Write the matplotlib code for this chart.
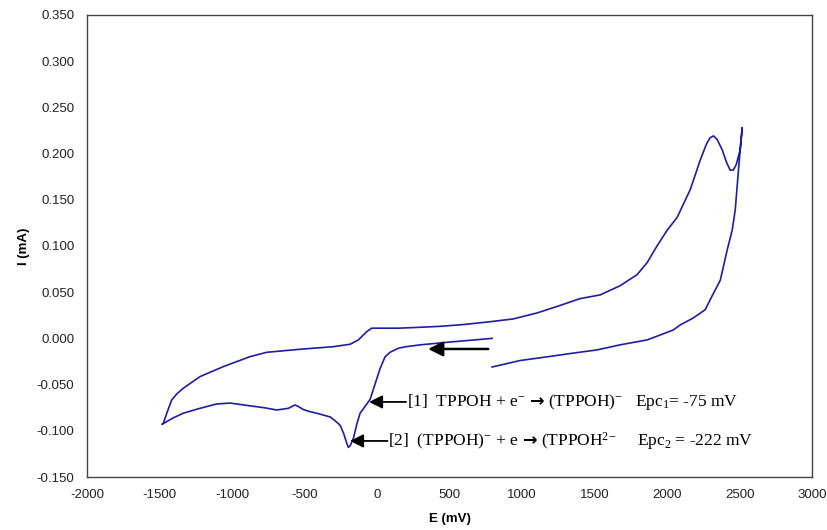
import matplotlib
matplotlib.use("Agg")
import matplotlib.pyplot as plt
from matplotlib.offsetbox import TextArea, HPacker, AnnotationBbox

# cyclic voltammogram, one continuous sweep (E in mV, I in mA)
# cathodic sweep from ~800 mV down to -1500 mV
E_cathodic = [793, 650, 500, 434, 300, 200, 147, 90, 55, 20, -15, -48, -80, -117,
              -140, -163, -185, -198, -209, -230, -255, -290, -324, -370, -416,
              -470, -508, -540, -566, -590, -612, -692, -780, -876, -1014, -1106,
              -1221, -1336, -1405, -1483]
I_cathodic = [0.000, -0.002, -0.004, -0.005, -0.007, -0.009, -0.0107, -0.015,
              -0.020, -0.033, -0.050, -0.066, -0.073, -0.081, -0.093, -0.108,
              -0.116, -0.118, -0.1135, -0.103, -0.094, -0.089, -0.085, -0.083,
              -0.081, -0.079, -0.077, -0.074, -0.072, -0.074, -0.0757, -0.0775,
              -0.075, -0.073, -0.070, -0.071, -0.0757, -0.081, -0.086, -0.093]

# anodic sweep from -1500 mV up to ~2500 mV
E_anodic = [-1474, -1445, -1416, -1380, -1336, -1221, -1060, -876, -761, -531,
            -301, -186, -129, -71, -37, 43, 150, 300, 434, 600, 779, 938, 1103,
            1250, 1400, 1538, 1676, 1793, 1862, 1930, 2000, 2069, 2120, 2159,
            2228, 2270, 2295, 2320, 2345, 2379, 2410, 2434, 2455, 2476, 2503, 2517]
I_anodic = [-0.092, -0.079, -0.0667, -0.060, -0.054, -0.0414, -0.0306, -0.0198,
            -0.0151, -0.0118, -0.009, -0.0064, -0.0017, 0.0073, 0.011, 0.011,
            0.011, 0.012, 0.013, 0.015, 0.018, 0.021, 0.0275, 0.035, 0.043, 0.047,
            0.057, 0.069, 0.082, 0.100, 0.117, 0.131, 0.148, 0.161, 0.193, 0.210,
            0.217, 0.219, 0.215, 0.204, 0.190, 0.182, 0.182, 0.188, 0.204, 0.228]

# reverse sweep back to ~800 mV
E_reverse = [2497, 2469, 2448, 2414, 2366, 2297, 2262, 2179, 2090, 2041, 1862,
             1676, 1517, 1350, 1172, 986, 793]
I_reverse = [0.193, 0.139, 0.117, 0.096, 0.063, 0.042, 0.031, 0.022, 0.0145,
             0.009, -0.0017, -0.007, -0.0125, -0.016, -0.020, -0.024, -0.031]

E = E_cathodic + E_anodic + E_reverse
I = I_cathodic + I_anodic + I_reverse

x_ticks = list(range(-2000, 3001, 500))
y_ticks = [-0.15, -0.10, -0.05, 0.0, 0.05, 0.10, 0.15, 0.20, 0.25, 0.30, 0.35]

plt.rcParams["font.family"] = ["Liberation Sans", "DejaVu Sans"]
plt.rcParams["axes.unicode_minus"] = False
plt.rcParams["mathtext.fontset"] = "custom"
plt.rcParams["mathtext.rm"] = "Liberation Serif"
plt.rcParams["mathtext.it"] = "Liberation Serif:italic"

fig = plt.figure(figsize=(8.28, 5.30), dpi=100)
ax = fig.add_axes([0.105, 0.10, 0.876, 0.872])

ax.plot(E, I, color="#1f1f9e", lw=1.2)

ax.set_xlim(-2000, 3000)
ax.set_ylim(-0.15, 0.35)
ax.set_xticks(x_ticks)
ax.set_xticklabels([str(v) for v in x_ticks])
ax.set_yticks(y_ticks)
ax.set_yticklabels([f"{v:.3f}" for v in y_ticks])
ax.tick_params(length=0, labelsize=9.5, pad=9, colors="#222222")
for s in ax.spines.values():
    s.set_color("#444444")
    s.set_linewidth(1.0)

ax.set_xlabel("E (mV)", fontsize=9.5, fontweight="bold", labelpad=8)
ax.set_ylabel("I (mA)", fontsize=9.5, fontweight="bold", labelpad=5)

# sweep direction arrow
ax.annotate("", xy=(352, -0.0115), xytext=(766, -0.0115),
            arrowprops=dict(arrowstyle="-|>", color="black", lw=1.8,
                            mutation_scale=22, shrinkA=0, shrinkB=0))

# peak annotations
ax.annotate("", xy=(-55, -0.0688), xytext=(200, -0.0688),
            arrowprops=dict(arrowstyle="-|>", color="black", lw=1.3,
                            mutation_scale=20, shrinkA=0, shrinkB=0))
ax.annotate("", xy=(-186, -0.111), xytext=(72, -0.111),
            arrowprops=dict(arrowstyle="-|>", color="black", lw=1.3,
                            mutation_scale=20, shrinkA=0, shrinkB=0))

serif = dict(family="Liberation Serif", size=12.5)
arrow_font = dict(family="DejaVu Sans", size=12.5, weight="bold")


def reaction_label(left, right, xy):
    parts = [TextArea(left, textprops=serif),
             TextArea("\u2192", textprops=arrow_font),
             TextArea(right, textprops=serif)]
    box = HPacker(children=parts, align="baseline", pad=0, sep=3)
    ab = AnnotationBbox(box, xy, box_alignment=(0, 0.5), frameon=False,
                        pad=0)
    ax.add_artist(ab)


reaction_label("[1]  TPPOH + e$^{-}$", "(TPPOH)$^{-}$   Epc$_{1}$= -75 mV",
               (205, -0.0688))
reaction_label("[2]  (TPPOH)$^{-}$ + e", "(TPPOH$^{2{-}}$     Epc$_{2}$ = -222 mV",
               (75, -0.111))

fig.savefig("out.png", dpi=100)
